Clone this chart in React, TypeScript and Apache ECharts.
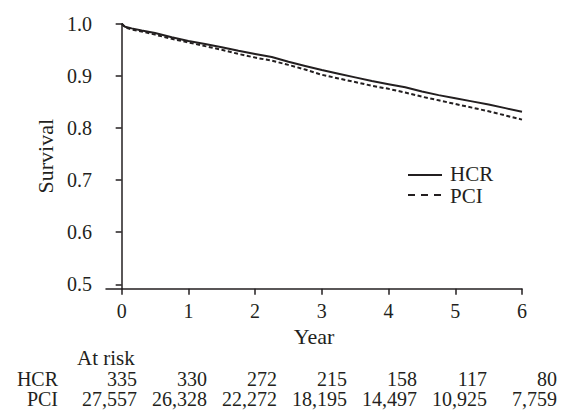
import React, { useEffect, useRef } from "react";
import * as echarts from "echarts";

const years = [0, 0.05, 0.15, 0.3, 0.5, 0.75, 1, 1.25, 1.5, 1.75, 2, 2.25, 2.5, 2.75, 3, 3.25, 3.5, 3.75, 4, 4.25, 4.5, 4.75, 5, 5.25, 5.5, 5.75, 6];
const hcrSurvival = [1.0, 0.994, 0.991, 0.987, 0.982, 0.974, 0.967, 0.961, 0.955, 0.948, 0.942, 0.936, 0.927, 0.919, 0.911, 0.904, 0.897, 0.89, 0.884, 0.878, 0.87, 0.863, 0.857, 0.851, 0.845, 0.838, 0.831];
const pciSurvival = [1.0, 0.993, 0.989, 0.985, 0.979, 0.971, 0.964, 0.957, 0.95, 0.942, 0.935, 0.929, 0.921, 0.912, 0.902, 0.895, 0.888, 0.881, 0.875, 0.868, 0.86, 0.853, 0.846, 0.839, 0.832, 0.824, 0.816];

const xTicks = [0, 1, 2, 3, 4, 5, 6];
const yTicks = [0.5, 0.6, 0.7, 0.8, 0.9, 1.0];

const riskRows = ["HCR", "PCI"];
const hcrAtRisk = ["335", "330", "272", "215", "158", "117", "80"];
const pciAtRisk = ["27,557", "26,328", "22,272", "18,195", "14,497", "10,925", "7,759"];

const INK = "#231f20";
const FONT = "Liberation Serif";

export default function App() {
  const ref = useRef<HTMLDivElement>(null);
  useEffect(() => {
    if (!ref.current) return;
    const chart = echarts.init(ref.current, null, { renderer: "svg" });
    const txt = (text: string, x: number, y: number, align: string, size: number) => ({
      type: "text",
      x,
      y,
      style: {
        text,
        font: `${size}px "${FONT}"`,
        fill: INK,
        align,
        textAlign: align,
        verticalAlign: "middle",
        textVerticalAlign: "middle",
        lineHeight: size,
      },
    });
    const graphics: any[] = [];
    // legend
    graphics.push({ type: "line", shape: { x1: 408, y1: 175, x2: 442, y2: 175 }, style: { stroke: INK, lineWidth: 2 } });
    graphics.push(txt("HCR", 450, 173.5, "left", 21));
    graphics.push({ type: "line", shape: { x1: 408, y1: 195, x2: 442, y2: 195 }, style: { stroke: INK, lineWidth: 2, lineDash: [7, 6] } });
    graphics.push(txt("PCI", 450, 195.5, "left", 21));
    // at risk table
    graphics.push(txt("At risk", 77, 358, "left", 21));
    const rowY = [379, 399];
    const rows = [hcrAtRisk, pciAtRisk];
    riskRows.forEach((name, r) => {
      graphics.push(txt(name, 58, rowY[r], "right", 20));
      rows[r].forEach((v, i) => graphics.push(txt(v, 137 + i * 70, rowY[r], "right", 20)));
    });

    chart.setOption({
      animation: false,
      textStyle: { fontFamily: FONT, color: INK },
      grid: { left: 106, right: 39, top: 23.7, bottom: 124.3, containLabel: false, outerBoundsMode: "none" } as any,
      xAxis: {
        type: "value",
        min: -0.235,
        max: 6,
        name: "Year",
        nameLocation: "middle",
        nameGap: 35,
        nameTextStyle: { fontFamily: FONT, fontSize: 22, color: INK },
        axisLine: { show: true, lineStyle: { color: INK, width: 1.5 } },
        axisTick: { show: true, length: 6, customValues: xTicks, lineStyle: { color: INK, width: 1.5 } },
        axisLabel: { margin: 12, fontFamily: FONT, fontSize: 20, color: INK, customValues: xTicks, formatter: (v: number) => String(v) },
        splitLine: { show: false },
      } as any,
      yAxis: {
        type: "value",
        min: 0.4916,
        max: 1.0,
        name: "Survival",
        nameLocation: "middle",
        nameGap: 44,
        nameRotate: 90,
        nameTextStyle: { fontFamily: FONT, fontSize: 22, color: INK },
        axisLine: { show: true, lineStyle: { color: INK, width: 1.5 } },
        axisTick: { show: true, length: 6, customValues: yTicks, lineStyle: { color: INK, width: 1.5 } },
        axisLabel: { margin: 14, fontFamily: FONT, fontSize: 20, color: INK, customValues: yTicks, formatter: (v: number) => v.toFixed(1) },
        splitLine: { show: false },
      } as any,
      series: [
        {
          name: "HCR",
          type: "line",
          data: years.map((x, i) => [x, hcrSurvival[i]]),
          showSymbol: false,
          lineStyle: { color: INK, width: 2 },
        },
        {
          name: "PCI",
          type: "line",
          data: years.map((x, i) => [x, pciSurvival[i]]),
          showSymbol: false,
          lineStyle: { color: INK, width: 2, type: [4, 2.5] },
        },
      ],
      graphic: graphics,
    });
    return () => chart.dispose();
  }, []);
  return <div ref={ref} style={{ position: "fixed", left: 0, top: 0, width: 561, height: 413, background: "#fff" }} />;
}
